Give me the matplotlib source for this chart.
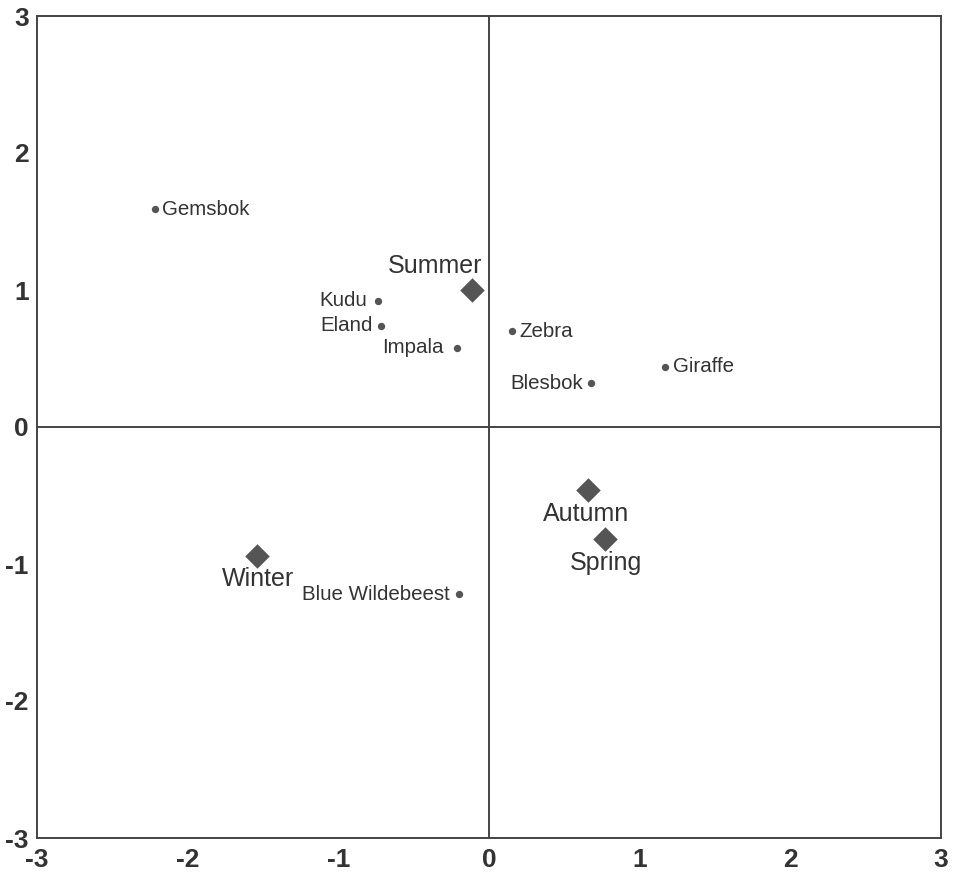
import matplotlib
matplotlib.use("Agg")
import matplotlib.pyplot as plt

plt.rcParams['font.family'] = ['Liberation Sans', 'DejaVu Sans']

# Species scores
species = ["Gemsbok", "Kudu", "Eland", "Impala", "Zebra", "Giraffe", "Blesbok", "Blue Wildebeest"]
species_x = [-2.22, -0.74, -0.72, -0.21, 0.15, 1.17, 0.68, -0.20]
species_y = [1.59, 0.92, 0.74, 0.58, 0.70, 0.44, 0.32, -1.22]

# Season scores
seasons = ["Summer", "Autumn", "Spring", "Winter"]
season_x = [-0.11, 0.66, 0.77, -1.54]
season_y = [1.00, -0.46, -0.82, -0.94]

ticks = [-3, -2, -1, 0, 1, 2, 3]
tick_labels = ["-3", "-2", "-1", "0", "1", "2", "3"]

ink = "#444444"
text_col = "#333333"

fig = plt.figure(figsize=(9.62, 8.77), dpi=100)
ax = fig.add_axes([37 / 962, 1 - 838 / 877, (941 - 37) / 962, (838 - 16) / 877])

ax.set_xlim(-3, 3)
ax.set_ylim(-3, 3)
ax.axhline(0, color=ink, lw=1.4, zorder=1)
ax.axvline(0, color=ink, lw=1.4, zorder=1)

ax.scatter(species_x, species_y, s=28, color="#555555", zorder=3, linewidths=0)
ax.scatter(season_x, season_y, s=156, marker="D", color="#555555", zorder=3, linewidths=0)

# label placement: (dx, dy, ha, va) in pixels
species_pos = {
    "Gemsbok": (7, 0, "left", "center"),
    "Kudu": (-10, 0, "right", "center"),
    "Eland": (-8, 0, "right", "center"),
    "Impala": (-14, 0, "right", "center"),
    "Zebra": (8, 0, "left", "center"),
    "Giraffe": (8, 0, "left", "center"),
    "Blesbok": (-8, 0, "right", "center"),
    "Blue Wildebeest": (-9, 0, "right", "center"),
}
for name, x, y in zip(species, species_x, species_y):
    dx, dy, ha, va = species_pos[name]
    ax.annotate(name, (x, y), xytext=(dx, dy), textcoords="offset pixels",
                ha=ha, va=va, fontsize=14.8, color=text_col)

season_pos = {
    "Summer": (-37, 24, "center", "center"),
    "Autumn": (-2, -24, "center", "center"),
    "Spring": (1, -24, "center", "center"),
    "Winter": (1, -23, "center", "center"),
}
for name, x, y in zip(seasons, season_x, season_y):
    dx, dy, ha, va = season_pos[name]
    ax.annotate(name, (x, y), xytext=(dx, dy), textcoords="offset pixels",
                ha=ha, va=va, fontsize=18, color=text_col)

ax.set_xticks(ticks)
ax.set_xticklabels(tick_labels)
ax.set_yticks(ticks)
ax.set_yticklabels(tick_labels)
ax.tick_params(length=0, labelsize=19, labelcolor=text_col)
ax.tick_params(axis="x", pad=7)
ax.tick_params(axis="y", pad=6)
for lab in ax.get_xticklabels() + ax.get_yticklabels():
    lab.set_fontweight("bold")

for sp in ax.spines.values():
    sp.set_color(ink)
    sp.set_linewidth(1.4)

fig.savefig("out.png", dpi=100, facecolor="white")
